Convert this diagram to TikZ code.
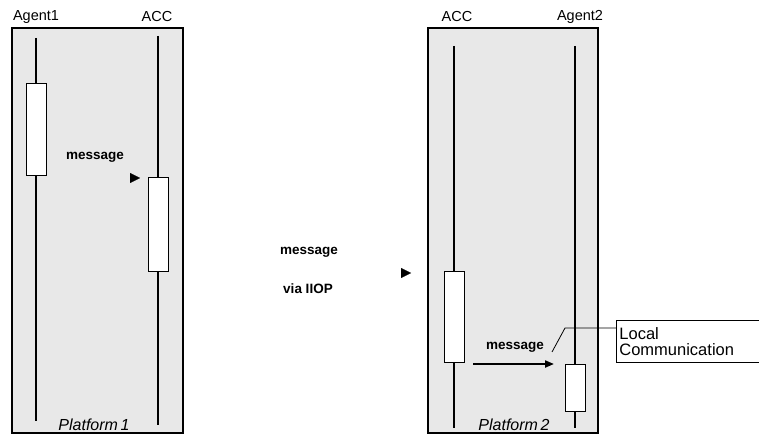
\documentclass[tikz,border=0pt]{standalone}
\usepackage{fontspec}
\setmainfont{Liberation Sans}
\usepackage{tikz}
\usetikzlibrary{arrows.meta,positioning}
\definecolor{platgray}{HTML}{E8E8E8}

\begin{document}
\begin{tikzpicture}[
  x=1pt,y=-1pt,
  platform/.style={draw,line width=1.3pt,fill=platgray},
  activation/.style={draw,fill=white,line width=1pt,minimum width=20pt,inner sep=0pt},
  lifeline/.style={line width=1.2pt},
  actor/.style={font=\fontsize{14.5}{16}\selectfont},
  msg/.style={font=\fontsize{13.5}{15}\selectfont\bfseries},
  platlabel/.style={font=\fontsize{16}{18}\selectfont\itshape},
  tip/.style={-{Triangle[length=10pt,width=10pt]},line width=0.1pt},
  arr/.style={-{Triangle[length=9pt,width=7pt]},line width=2pt},
  note/.style={draw,line width=0.8pt,font=\fontsize{16.5}{16}\selectfont,align=left,anchor=north west,minimum height=42pt,text width=150pt,inner xsep=3pt}
]
\useasboundingbox (0,0) rectangle (759,435);

% Platform 1
\draw[platform] (12,28) rectangle (183,433);
\node[actor] (agent1) at (36,17) {Agent1};
\node[actor] (acc1) at (157,17) {ACC};
\node[activation,minimum height=92pt] (box1) at (36,130) {};
\node[activation,minimum height=93pt] (box2) at (158,224.5) {};
\coordinate (a1top) at (36,38);
\coordinate (a1bot) at (36,421);
\coordinate (c1top) at (158,36);
\coordinate (c1bot) at (158,425);
\draw[lifeline] (a1top) -- (box1.north);
\draw[lifeline] (box1.south) -- (a1bot);
\draw[lifeline] (c1top) -- (box2.north);
\draw[lifeline] (box2.south) -- (c1bot);
\node[msg] (msg1) at (95,157) {message};
\coordinate (tip1a) at (130,178);
\coordinate (tip1b) at (140,178);
\draw[tip] (tip1a) -- (tip1b);
\node[platlabel] (plat1) at (94,425) {Platform\,1};

% IIOP
\node[msg] (msg2) at (309,252) {message};
\node[msg] (iiop) at (308,289) {via IIOP};
\coordinate (tip2a) at (401,273);
\coordinate (tip2b) at (411,273);
\draw[tip] (tip2a) -- (tip2b);

% Platform 2
\draw[platform] (428,28) rectangle (598,433);
\node[actor] (acc2) at (457,17) {ACC};
\node[actor] (agent2) at (580,17) {Agent2};
\node[activation,minimum height=91pt] (box3) at (454,316.5) {};
\node[activation,minimum height=47pt] (box4) at (575,387.5) {};
\coordinate (c2top) at (454,46);
\coordinate (c2bot) at (454,428);
\coordinate (a2top) at (575,46);
\coordinate (a2bot) at (575,428);
\draw[lifeline] (c2top) -- (box3.north);
\draw[lifeline] (box3.south) -- (c2bot);
\draw[lifeline] (a2top) -- (box4.north);
\draw[lifeline] (box4.south) -- (a2bot);
\node[msg] (msg3) at (515,347) {message};
\coordinate (locfrom) at (473,364);
\coordinate (locto) at (554,364);
\draw[arr] (locfrom) -- (locto);
\node[platlabel] (plat2) at (514,425) {Platform\,2};

% Note
\node[note] (local) at (616,320) {Local\\Communication};
\coordinate (notefoot) at (552,352);
\coordinate (notebend) at (565,328);
\draw[line width=0.8pt] (notefoot) -- (notebend) -- (local.west |- notebend);

\end{tikzpicture}
\end{document}
